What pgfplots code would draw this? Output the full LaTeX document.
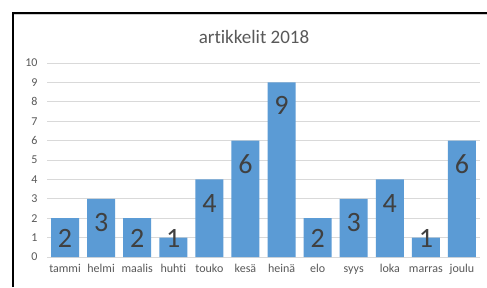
\documentclass[border=0pt]{standalone}
\usepackage{pgfplots}
\pgfplotsset{compat=1.18}
\usepackage{fontspec}
\setmainfont{Carlito}[Ligatures={NoCommon}]
\definecolor{barblue}{HTML}{5B9BD5}
\definecolor{lblgray}{HTML}{404040}
\definecolor{tickgray}{HTML}{595959}
\definecolor{gridgray}{HTML}{D9D9D9}
\begin{document}
\begin{tikzpicture}[x=1bp,y=1bp]
\path[use as bounding box, fill=white] (0,0) rectangle (487,287);
\draw[black, line width=2bp] (13,0) -- (13,274) -- (487,274);
\draw[gray!40, line width=0.8bp] (14,272.4) -- (487,272.4);
\node[anchor=base, text=tickgray, font=\fontsize{19bp}{22bp}\selectfont] at (254,244) {artikkelit 2018};
\begin{axis}[
  at={(47bp,30bp)}, anchor=south west,
  scale only axis, width=433bp, height=194bp,
  xmin=-0.5, xmax=11.5, ymin=0, ymax=10,
  axis line style={draw=none},
  ytick={0,1,...,10},
  xtick={0,1,...,11},
  xticklabels={tammi,helmi,maalis,huhti,touko,kesä,heinä,elo,syys,loka,marras,joulu},
  ymajorgrids, major grid style={gridgray, line width=0.8bp},
  tick style={draw=none},
  /pgf/number format/assume math mode=true,
  yticklabel style={font=\fontsize{12bp}{14bp}\selectfont, text=tickgray, anchor=east, xshift=-6bp},
  xticklabel style={font=\fontsize{12bp}{14bp}\selectfont, text=tickgray, anchor=base, yshift=-15bp},
  clip=false,
]
\addplot[ybar, bar width=28bp, fill=barblue, draw=none] coordinates {
(0,2) (1,3) (2,2) (3,1) (4,4) (5,6) (6,9) (7,2) (8,3) (9,4) (10,1) (11,6)};
\addplot[draw=none, mark=none, nodes near coords, point meta=explicit symbolic,
  every node near coord/.style={anchor=center, text=lblgray, font=\fontsize{28bp}{32bp}\selectfont}]
  table[meta=label] {
x y label
0 0.97 2
1 1.8 3
2 0.97 2
3 0.93 1
4 2.75 4
5 4.8 6
6 7.83 9
7 0.97 2
8 1.8 3
9 2.75 4
10 0.93 1
11 4.8 6
};
\end{axis}
\end{tikzpicture}
\end{document}
